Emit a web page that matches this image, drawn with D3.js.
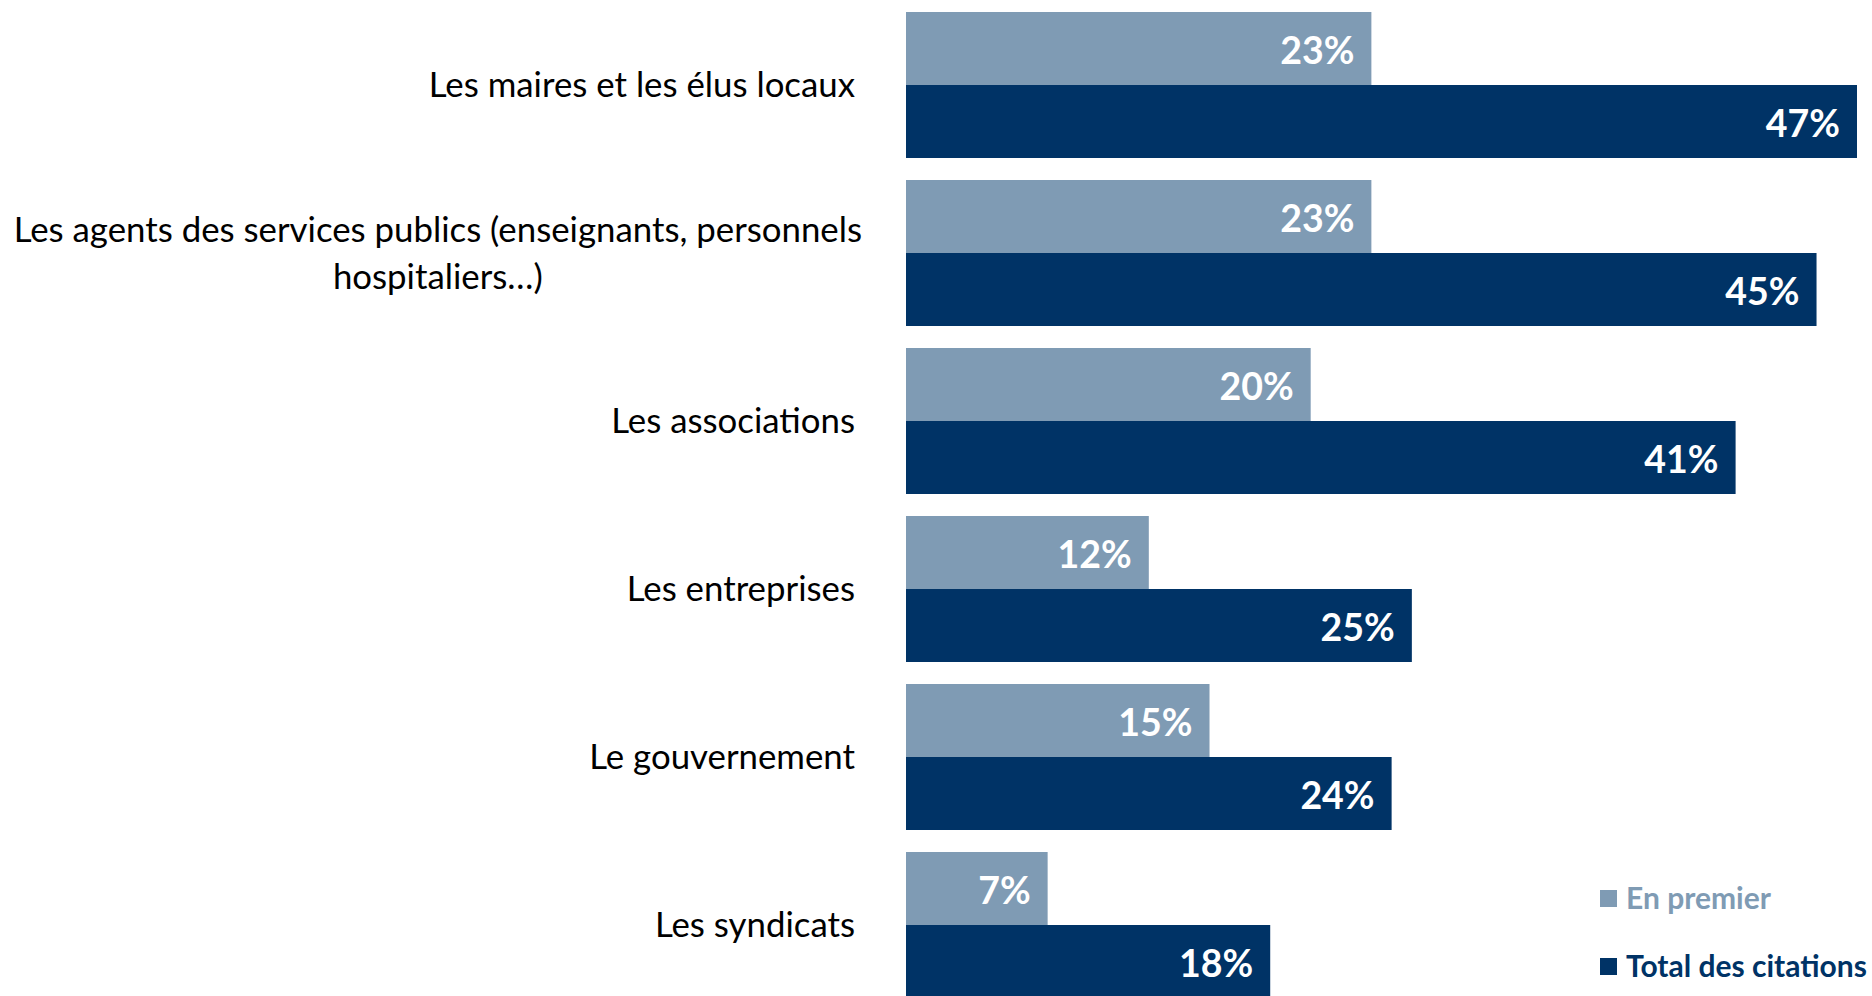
<!DOCTYPE html>
<html><head><meta charset="utf-8">
<script src="https://cdn.jsdelivr.net/npm/d3@7"></script>
<style>html,body{margin:0;padding:0;background:#fff;}svg{display:block;}</style>
</head><body>
<svg id="chart" width="1872" height="996"></svg>
<script>
const categories = [
  ["Les maires et les élus locaux"],
  ["Les agents des services publics (enseignants, personnels", "hospitaliers…)"],
  ["Les associations"],
  ["Les entreprises"],
  ["Le gouvernement"],
  ["Les syndicats"]
];
const enPremier = [23, 23, 20, 12, 15, 7];
const totalCitations = [47, 45, 41, 25, 24, 18];
const seriesNames = ["En premier", "Total des citations"];
const seriesColors = ["#7F9BB4", "#003366"];

const W = 1872, H = 996;
const svg = d3.select("#chart");
const catKeys = categories.map((c, i) => i);

const x = d3.scaleLinear().domain([0, 47]).range([906, 1857]);
const y = d3.scaleBand().domain(catKeys).range([1, 1009]).paddingInner(0.131).paddingOuter(0.0655);
const ySub = d3.scaleBand().domain([0, 1]).range([0, y.bandwidth()]).padding(0);

const labelFont = "Lato, 'Open Sans', sans-serif";
const catSize = 34.8;

const groups = svg.selectAll("g.cat").data(catKeys).join("g")
  .attr("class", "cat")
  .attr("transform", i => `translate(0,${y(i)})`);

const series = [enPremier, totalCitations];
groups.each(function(i) {
  const g = d3.select(this);
  series.forEach((s, k) => {
    g.append("rect")
      .attr("x", x(0))
      .attr("y", ySub(k))
      .attr("width", x(s[i]) - x(0))
      .attr("height", ySub.bandwidth())
      .attr("fill", seriesColors[k]);
    g.append("text")
      .attr("x", x(s[i]) - 17)
      .attr("y", ySub(k) + ySub.bandwidth() / 2)
      .attr("dy", "0.42em")
      .attr("text-anchor", "end")
      .attr("fill", "#fff")
      .attr("font-family", labelFont)
      .attr("font-weight", "bold")
      .attr("font-size", 37.5)
      .text(s[i] + "%");
  });
  const lines = categories[i];
  const lh = 47;
  const cy = y.bandwidth() / 2;
  if (lines.length === 1) {
    g.append("text")
      .attr("x", 855)
      .attr("y", cy)
      .attr("dy", "0.35em")
      .attr("text-anchor", "end")
      .attr("fill", "#000")
      .attr("font-family", labelFont)
      .attr("font-size", catSize)
      .text(lines[0]);
  } else {
    const t = g.append("text")
      .attr("text-anchor", "middle")
      .attr("fill", "#000")
      .attr("font-family", labelFont)
      .attr("font-size", catSize);
    const tmp = t.append("tspan").text(lines[0]);
    const w0 = tmp.node().getComputedTextLength();
    tmp.remove();
    const cx = 862 - w0 / 2;
    lines.forEach((ln, j) => {
      t.append("tspan")
        .attr("x", cx)
        .attr("y", cy + (j - (lines.length - 1) / 2) * lh)
        .attr("dy", "0.35em")
        .text(ln);
    });
  }
});

const legend = svg.append("g").attr("class", "legend");
const legY = [898, 966];
seriesNames.forEach((n, k) => {
  legend.append("rect")
    .attr("x", 1600).attr("y", legY[k] - 8)
    .attr("width", 17).attr("height", 17)
    .attr("fill", seriesColors[k]);
  legend.append("text")
    .attr("x", 1626).attr("y", legY[k])
    .attr("dy", "0.35em")
    .attr("fill", seriesColors[k])
    .attr("font-family", labelFont)
    .attr("font-weight", "bold")
    .attr("font-size", 30)
    .text(n);
});
</script>
</body></html>
